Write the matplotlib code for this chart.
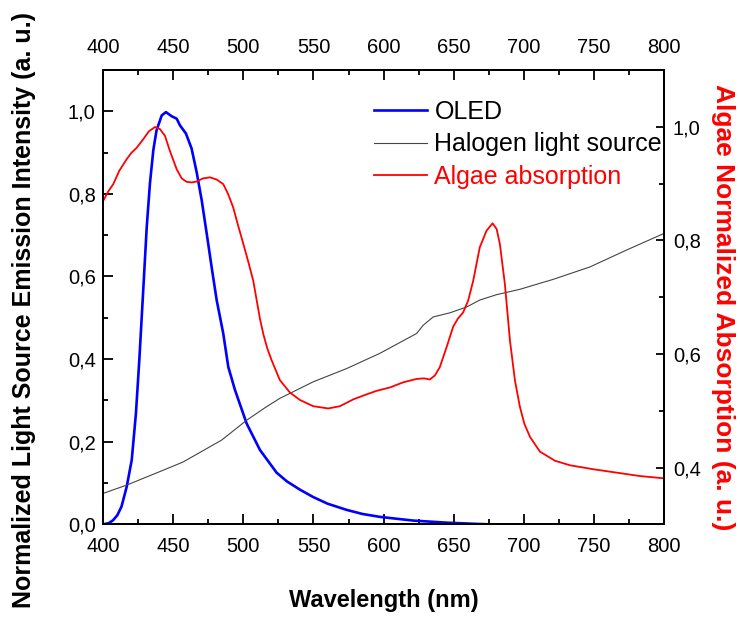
import matplotlib
matplotlib.use('Agg')
import matplotlib.pyplot as plt
from matplotlib.ticker import MultipleLocator, FuncFormatter

plt.rcParams['font.family'] = ['Liberation Sans', 'DejaVu Sans']

# OLED emission (left axis)
oled_wl = [400, 404, 407, 410, 413, 416.7, 420.3, 423.3, 425.7, 428.1, 431, 433.3, 435.7, 438, 441.7, 444.7,
           448.8, 452.4, 454.7, 459, 463, 466.6, 470.2, 473.8, 477.3, 480.9, 485.6, 489.2, 494,
           502.3, 511.8, 523.7, 531, 540.3, 549.8, 560, 573.6, 585, 597.4, 621.2, 645, 666.4, 675]
oled_val = [0.0, 0.003, 0.01, 0.022, 0.043, 0.091, 0.156, 0.269, 0.398, 0.543, 0.72, 0.826, 0.906, 0.954, 0.99, 0.998,
            0.988, 0.982, 0.966, 0.946, 0.91, 0.853, 0.785, 0.704, 0.623, 0.543, 0.462, 0.381, 0.325,
            0.244, 0.18, 0.125, 0.104, 0.084, 0.066, 0.05, 0.035, 0.025, 0.018, 0.009, 0.004, 0.001, 0.0]

# Halogen light source (left axis)
halo_wl = [400, 416.7, 442.8, 457, 484.5, 502.3, 516.6, 526, 533.2, 549.8, 573.6, 597.4, 623.6,
           628.3, 635.4, 647.3, 659.2, 668.7, 680.7, 697.3, 721, 747.2, 773.4, 800]
halo_val = [0.075, 0.095, 0.131, 0.151, 0.204, 0.252, 0.285, 0.305, 0.317, 0.345, 0.377, 0.414, 0.462,
            0.482, 0.502, 0.512, 0.526, 0.543, 0.556, 0.569, 0.593, 0.623, 0.664, 0.704]

# Algae absorption (right axis)
algae_wl = [400, 403.5, 407.1, 411.5, 416.7, 420, 423.8, 428.5, 432.5, 436.9, 440.4, 444, 447.6, 452.4, 456,
            459.5, 463, 466.6, 471, 476.1, 481, 485.6, 489, 492.7, 496, 499.9, 503.5, 507, 511.8, 514.2,
            517, 520.1, 526, 533.2, 540.3, 549.8, 560.5, 568.9, 578.4, 587, 595, 604.6, 614, 623.6, 629,
            633, 636.6, 640.2, 645, 649.7, 653, 656.8, 660.4, 664, 668.7, 673.5, 677.8, 680.7, 683, 686.6,
            690.2, 693.8, 697.3, 700.5, 704.5, 711.6, 722.3, 733, 749.6, 766.3, 782.9, 800]
algae_val = [0.870, 0.886, 0.899, 0.923, 0.943, 0.954, 0.963, 0.978, 0.992, 0.9996, 0.996, 0.984, 0.957, 0.925,
             0.909, 0.903, 0.902, 0.9036, 0.909, 0.911, 0.907, 0.899, 0.882, 0.858, 0.828, 0.794, 0.762,
             0.729, 0.662, 0.635, 0.610, 0.589, 0.554, 0.532, 0.519, 0.508, 0.504, 0.508, 0.520, 0.528,
             0.535, 0.541, 0.550, 0.556, 0.557, 0.555, 0.562, 0.577, 0.612, 0.648, 0.662, 0.673, 0.694,
             0.729, 0.788, 0.817, 0.830, 0.820, 0.794, 0.723, 0.624, 0.553, 0.507, 0.477, 0.454, 0.428,
             0.412, 0.404, 0.397, 0.391, 0.385, 0.381]

fig = plt.figure(figsize=(7.4, 6.21), dpi=100)
ax = fig.add_axes([0.1396, 0.1557, 0.7574, 0.7316])
ax2 = ax.twinx()

l1, = ax.plot(oled_wl, oled_val, color='#0000ff', lw=1.9, label='OLED')
l2, = ax.plot(halo_wl, halo_val, color='#444444', lw=0.8, label='Halogen light source')
l3, = ax2.plot(algae_wl, algae_val, color='#ff0000', lw=1.3, label='Algae absorption')

ax.set_xlim(400, 800)
ax.set_ylim(0, 1.1)
ax2.set_ylim(0.3, 1.1)

comma = FuncFormatter(lambda v, p: ('%.1f' % v).replace('.', ','))
ax.xaxis.set_major_locator(MultipleLocator(50))
ax.xaxis.set_minor_locator(MultipleLocator(25))
ax.yaxis.set_major_locator(MultipleLocator(0.2))
ax.yaxis.set_minor_locator(MultipleLocator(0.1))
ax.yaxis.set_major_formatter(comma)
ax2.yaxis.set_major_locator(MultipleLocator(0.2))
ax2.yaxis.set_minor_locator(MultipleLocator(0.1))
ax2.yaxis.set_major_formatter(comma)

ax.tick_params(axis='both', which='both', direction='in', labelsize=14.5, width=1.3)
ax.tick_params(axis='x', which='both', top=True, labeltop=True)
ax.tick_params(which='major', length=7)
ax.tick_params(which='minor', length=3.5)
ax.tick_params(axis='x', which='major', pad=9)
ax.tick_params(axis='y', which='major', pad=5.5)
ax2.tick_params(axis='y', which='both', direction='in', labelsize=14.5, width=1.3)
ax2.tick_params(which='major', length=6, pad=6.5)
ax2.tick_params(which='minor', length=3.5)

for a in (ax, ax2):
    for s in a.spines.values():
        s.set_linewidth(1.4)

ax.set_xlabel('Wavelength (nm)', fontsize=17, fontweight='bold', labelpad=24)
ax.set_ylabel('Normalized Light Source Emission Intensity (a. u.)', fontsize=18, fontweight='bold', labelpad=23)
ax.yaxis.label.set_y(0.472)
ax2.set_ylabel('Algae Normalized Absorption (a. u.)', fontsize=19, fontweight='bold', color='#ff0000',
               rotation=270, labelpad=25)
ax2.yaxis.label.set_y(0.478)

leg = ax2.legend(handles=[l1, l2, l3], loc='upper right', bbox_to_anchor=(0.997, 0.935), frameon=False,
                 fontsize=18, labelspacing=0.35, handlelength=2.1, handletextpad=0.3, borderaxespad=0,
                 borderpad=0)
leg.get_texts()[2].set_color('#ff0000')

fig.savefig('out.png', dpi=100)
